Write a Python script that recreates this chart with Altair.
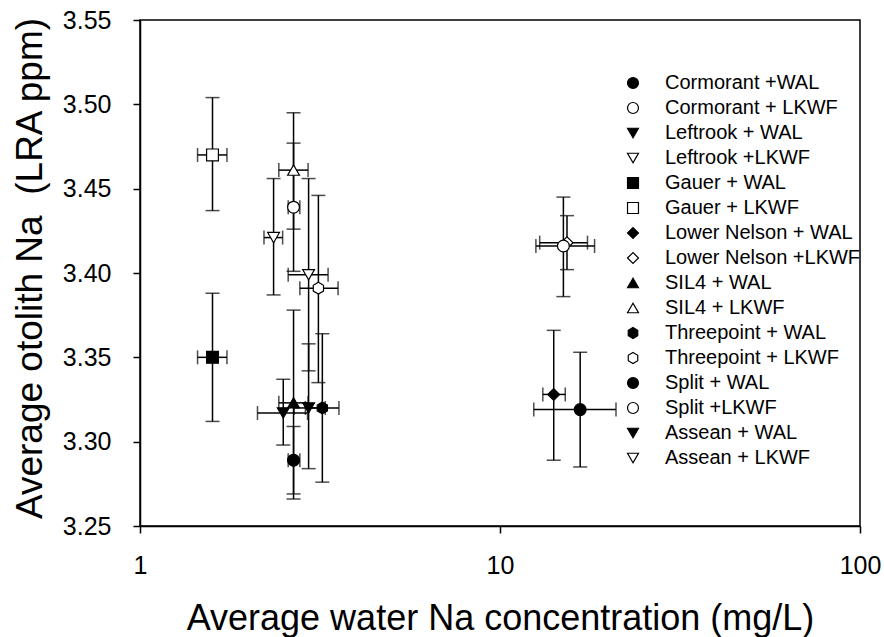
import altair as alt
import pandas as pd

# Site + feeding-group combinations, in legend order
series = [
    "Cormorant +WAL", "Cormorant + LKWF",
    "Leftrook + WAL", "Leftrook +LKWF",
    "Gauer + WAL", "Gauer + LKWF",
    "Lower Nelson + WAL", "Lower Nelson +LKWF",
    "SIL4 + WAL", "SIL4 + LKWF",
    "Threepoint + WAL", "Threepoint + LKWF",
    "Split + WAL", "Split +LKWF",
    "Assean + WAL", "Assean + LKWF",
]

# Average water Na (mg/L) with lower / upper error limits
water_na = [2.67, 2.67, 2.50, 2.35, 1.59, 1.59, 14.1, 15.35,
            2.67, 2.67, 3.21, 3.13, 16.7, 15.0, 2.94, 2.94]
water_lo = [2.58, 2.58, 2.12, 2.21, 1.445, 1.445, 13.15, 12.89,
            2.43, 2.43, 2.88, 2.78, 12.41, 12.58, 2.68, 2.58]
water_hi = [2.78, 2.78, 2.92, 2.49, 1.744, 1.744, 15.18, 17.5,
            2.93, 2.93, 3.57, 3.55, 21.0, 18.31, 3.27, 3.33]

# Average otolith Na (LRA ppm) with lower / upper error limits
otolith_na = [3.289, 3.439, 3.317, 3.421, 3.350, 3.470, 3.328, 3.418,
              3.323, 3.461, 3.320, 3.391, 3.319, 3.416, 3.320, 3.399]
otolith_lo = [3.269, 3.401, 3.298, 3.387, 3.312, 3.437, 3.289, 3.402,
              3.266, 3.426, 3.276, 3.335, 3.285, 3.386, 3.284, 3.342]
otolith_hi = [3.309, 3.477, 3.337, 3.456, 3.388, 3.504, 3.366, 3.434,
              3.378, 3.495, 3.364, 3.446, 3.353, 3.445, 3.358, 3.456]

x_ticks = [1, 10, 100]
y_ticks = [3.25, 3.30, 3.35, 3.40, 3.45, 3.50, 3.55]

# Marker styling per series
HEX = "M0,-1L0.866,-0.5L0.866,0.5L0,1L-0.866,0.5L-0.866,-0.5Z"
shapes = ["circle", "circle", "triangle-down", "triangle-down",
          "square", "square", "diamond", "diamond",
          "triangle-up", "triangle-up", HEX, HEX,
          "circle", "circle", "triangle-down", "triangle-down"]
fills = ["black", "white"] * 8
strokes = ["black"] * 16

df = pd.DataFrame({
    "series": series,
    "x": water_na, "xlo": water_lo, "xhi": water_hi,
    "y": otolith_na, "ylo": otolith_lo, "yhi": otolith_hi,
})

FONT = "Liberation Sans"

x_scale = alt.Scale(type="log", domain=[1, 100], nice=False)
y_scale = alt.Scale(domain=[3.25, 3.55], nice=False, zero=False)

x_axis = alt.Axis(
    title="Average water Na concentration (mg/L)", values=x_ticks, format="d",
    grid=False, labelFlush=False, labelPadding=20, titlePadding=23,
)
y_axis = alt.Axis(
    title="Average otolith Na \u00a0(LRA ppm)", values=y_ticks, format=".2f",
    grid=False, labelPadding=22, titleX=-110, titleY=248, titleFontSize=37,
    titleAngle=-90, titleBaseline="middle", titleAlign="center",
)

X = alt.X("x:Q", scale=x_scale, axis=x_axis)
Y = alt.Y("y:Q", scale=y_scale, axis=y_axis)

base = alt.Chart(df)
line_style = dict(color="black", strokeWidth=1.5)

v_bars = base.mark_rule(**line_style).encode(x="x:Q", y="ylo:Q", y2="yhi:Q")
h_bars = base.mark_rule(**line_style).encode(y="y:Q", x="xlo:Q", x2="xhi:Q")

cap_h = dict(color="black", orient="horizontal", size=14, thickness=1.5)
cap_v = dict(color="black", orient="vertical", size=14, thickness=1.5)
caps_lo = base.mark_tick(**cap_h).encode(x="x:Q", y="ylo:Q")
caps_hi = base.mark_tick(**cap_h).encode(x="x:Q", y="yhi:Q")
caps_l = base.mark_tick(**cap_v).encode(x="xlo:Q", y="y:Q")
caps_r = base.mark_tick(**cap_v).encode(x="xhi:Q", y="y:Q")

legend = alt.Legend(
    title=None, orient="none", legendX=483, legendY=53, padding=0,
    labelFont=FONT, labelFontSize=20, labelColor="black", labelOffset=22,
    symbolSize=120, symbolStrokeWidth=1.2, rowPadding=5, labelLimit=400,
)

points = base.mark_point(filled=True, opacity=1, size=140, strokeWidth=1.2).encode(
    x=X, y=Y,
    shape=alt.Shape("series:N", scale=alt.Scale(domain=series, range=shapes),
                    legend=legend),
    fill=alt.Fill("series:N", scale=alt.Scale(domain=series, range=fills),
                  legend=legend),
    stroke=alt.Stroke("series:N", scale=alt.Scale(domain=series, range=strokes),
                      legend=legend),
)

chart = alt.layer(
    v_bars, h_bars, caps_lo, caps_hi, caps_l, caps_r, points
).properties(
    width=720, height=506,
    autosize=alt.AutoSizeParams(type="none"),
    padding={"left": 140, "top": 20, "right": 24, "bottom": 111},
).configure_view(
    stroke="black", strokeWidth=1.5,
).configure_axis(
    domainColor="black", domainWidth=1.5, tickColor="black", tickWidth=1.5,
    tickSize=7, labelFont=FONT, labelFontSize=25, labelColor="black",
    titleFont=FONT, titleFontSize=36, titleFontWeight="normal", titleColor="black",
)

chart.save("out.html", embed_options={"renderer": "svg", "actions": False})
